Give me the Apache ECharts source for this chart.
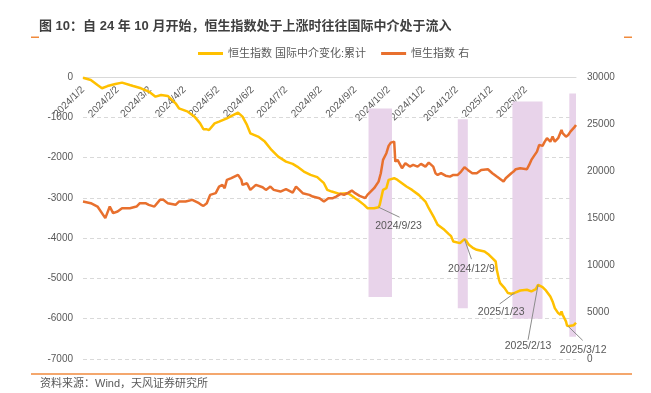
<!DOCTYPE html>
<html><head><meta charset="utf-8">
<script src="https://cdn.jsdelivr.net/npm/echarts@6/dist/echarts.min.js"></script>
<style>html,body{margin:0;padding:0;background:#fff}#c{width:651px;height:393px}</style>
</head><body><div id="c"></div>
<script>
const FONT = '"Liberation Sans", Arial, "Noto Sans CJK SC", sans-serif';

const titleText = '图 10：自 24 年 10 月开始，恒生指数处于上涨时往往国际中介处于流入';
const sourceText = '资料来源：Wind，天风证券研究所';
const flowName = '恒生指数 国际中介变化:累计';
const hsiName = '恒生指数 右';

const tickLabels = ['2024/1/2','2024/2/2','2024/3/2','2024/4/2','2024/5/2','2024/6/2','2024/7/2','2024/8/2','2024/9/2','2024/10/2','2024/11/2','2024/12/2','2025/1/2','2025/2/2','2025/3/2'];

const flowDates = ['2024-01-02','2024-01-09','2024-01-15','2024-01-19','2024-01-24','2024-01-31','2024-02-06','2024-02-13','2024-02-16','2024-02-23','2024-03-01','2024-03-07','2024-03-12','2024-03-18','2024-03-25','2024-03-28','2024-04-05','2024-04-11','2024-04-16','2024-04-19','2024-04-22','2024-04-24','2024-04-29','2024-05-03','2024-05-10','2024-05-16','2024-05-20','2024-05-24','2024-05-28','2024-05-31','2024-06-07','2024-06-13','2024-06-19','2024-06-25','2024-07-02','2024-07-08','2024-07-12','2024-07-18','2024-07-24','2024-07-30','2024-08-05','2024-08-08','2024-08-12','2024-08-19','2024-08-26','2024-08-29','2024-09-02','2024-09-05','2024-09-10','2024-09-13','2024-09-19','2024-09-23','2024-09-24','2024-09-26','2024-09-27','2024-09-30','2024-10-02','2024-10-03','2024-10-07','2024-10-10','2024-10-14','2024-10-18','2024-10-23','2024-10-29','2024-11-04','2024-11-07','2024-11-12','2024-11-15','2024-11-21','2024-11-25','2024-11-27','2024-11-29','2024-12-05','2024-12-06','2024-12-09','2024-12-11','2024-12-13','2024-12-17','2024-12-20','2024-12-27','2024-12-31','2025-01-03','2025-01-06','2025-01-07','2025-01-09','2025-01-10','2025-01-14','2025-01-17','2025-01-20','2025-01-23','2025-01-28','2025-02-03','2025-02-07','2025-02-11','2025-02-13','2025-02-17','2025-02-20','2025-02-24','2025-02-26','2025-02-28','2025-03-03','2025-03-05','2025-03-06','2025-03-07','2025-03-10','2025-03-11','2025-03-12','2025-03-13','2025-03-14','2025-03-17','2025-03-18','2025-03-19'];
const flowValues = [-20,-75,-200,-280,-225,-175,-140,-200,-225,-280,-363,-488,-446,-470,-653,-777,-860,-984,-1150,-1297,-1300,-1314,-1150,-1108,-1025,-942,-885,-984,-1190,-1397,-1480,-1604,-1810,-1976,-2100,-2157,-2224,-2348,-2430,-2487,-2636,-2802,-2844,-2901,-2885,-2926,-3009,-3067,-3174,-3257,-3257,-3232,-3174,-2926,-2802,-2760,-2554,-2513,-2513,-2554,-2636,-2719,-2802,-2926,-3091,-3257,-3505,-3670,-3794,-3900,-3950,-4083,-4124,-4110,-4025,-4083,-4166,-4248,-4290,-4331,-4414,-4497,-4580,-4786,-5034,-5116,-5240,-5364,-5381,-5360,-5300,-5281,-5323,-5265,-5158,-5215,-5298,-5447,-5571,-5736,-5860,-5901,-5819,-5901,-6067,-6174,-6190,-6180,-6175,-6160,-6130,-6100];

const hsiDates = ['2024-01-02','2024-01-09','2024-01-15','2024-01-22','2024-01-26','2024-01-29','2024-02-02','2024-02-06','2024-02-13','2024-02-19','2024-02-22','2024-02-27','2024-03-01','2024-03-06','2024-03-11','2024-03-14','2024-03-18','2024-03-25','2024-03-28','2024-04-03','2024-04-09','2024-04-15','2024-04-17','2024-04-19','2024-04-22','2024-04-25','2024-04-30','2024-05-03','2024-05-06','2024-05-08','2024-05-10','2024-05-14','2024-05-20','2024-05-23','2024-05-24','2024-05-28','2024-05-31','2024-06-05','2024-06-11','2024-06-14','2024-06-18','2024-06-21','2024-06-27','2024-07-02','2024-07-08','2024-07-11','2024-07-17','2024-07-23','2024-07-26','2024-08-01','2024-08-05','2024-08-09','2024-08-13','2024-08-16','2024-08-20','2024-08-23','2024-08-27','2024-08-30','2024-09-02','2024-09-06','2024-09-11','2024-09-13','2024-09-19','2024-09-23','2024-09-25','2024-09-27','2024-09-30','2024-10-02','2024-10-04','2024-10-07','2024-10-08','2024-10-09','2024-10-10','2024-10-11','2024-10-14','2024-10-17','2024-10-21','2024-10-24','2024-10-28','2024-10-31','2024-11-04','2024-11-07','2024-11-11','2024-11-13','2024-11-15','2024-11-18','2024-11-22','2024-11-26','2024-11-29','2024-12-03','2024-12-06','2024-12-09','2024-12-12','2024-12-16','2024-12-20','2024-12-24','2024-12-30','2025-01-03','2025-01-07','2025-01-13','2025-01-15','2025-01-20','2025-01-22','2025-01-24','2025-01-28','2025-02-03','2025-02-05','2025-02-07','2025-02-10','2025-02-12','2025-02-14','2025-02-17','2025-02-19','2025-02-21','2025-02-24','2025-02-26','2025-02-28','2025-03-03','2025-03-06','2025-03-07','2025-03-10','2025-03-12','2025-03-14','2025-03-18','2025-03-19'];
const hsiValues = [16748,16578,16216,14985,16216,15516,15686,16046,16046,16216,16578,16578,16400,16216,16929,16929,16578,16400,16748,16748,16929,16578,16400,16290,16578,17461,17641,18343,18524,18170,19055,19234,19585,19055,18524,18700,17990,18524,18277,17990,18343,17990,17810,18065,17705,18343,17641,17461,17280,17110,16748,17110,17110,17280,17566,17461,17705,17917,17641,17354,17110,17461,18172,18873,19766,21180,21892,22668,23018,23124,21000,20829,21180,21000,20298,20829,20467,20649,20467,20755,20467,20894,20467,19766,19585,19766,19500,19400,19585,19585,19936,20404,20117,19766,19766,20117,20191,19766,19404,18873,19234,19766,19936,20191,20298,20191,20649,21180,21711,22062,22774,22668,23124,23487,23124,23656,23124,23487,24369,24017,23656,23837,24186,24720,24900];

const bandStart = ['2024-09-14','2024-12-03','2025-01-21','2025-03-13'];
const bandEnd = ['2024-10-05','2024-12-12','2025-02-17','2025-03-19'];
const bandTop = [-780,-1050,-610,-410];
const bandBottom = [-5460,-5740,-6000,-6450];

const noteLabels = ['2024/9/23','2024/12/9','2025/1/23','2025/2/13','2025/3/12'];
const noteDates = ['2024-09-23','2024-12-09','2025-01-23','2025-02-13','2025-03-12'];
const noteValues = [-3232,-4025,-5360,-5158,-6190];
// pixel offsets from the annotated point: [leaderEndX, leaderEndY, textX, textY]
const noteOffsets = [[21,10,20,19],[7,20,7,30],[-15,11,-13.5,19.6],[-10,55,-10,61],[14.5,14,15,24]];

const START = '2024-01-02', END = '2025-03-19';
function ymd(s){ return s.split(/[-\/]/).map(Number); }
function day(s){ const p=ymd(s), q=ymd(START); return Math.round((Date.UTC(p[0],p[1]-1,p[2]) - Date.UTC(q[0],q[1]-1,q[2]))/86400000); }
function fmt(v){ const q=ymd(START); const d=new Date(Date.UTC(q[0],q[1]-1,q[2]+Math.round(v))); return d.getUTCFullYear()+'/'+(d.getUTCMonth()+1)+'/'+d.getUTCDate(); }

const GRID = {left:83, right:75, top:77, bottom:34};
const plotH = 393 - GRID.top - GRID.bottom;

const chart = echarts.init(document.getElementById('c'), null, {renderer:'canvas'});
const gray = '#595959';
const option = {
  animation:false,
  backgroundColor:'#fff',
  textStyle:{fontFamily:FONT},
  title:{text:titleText, left:39, top:20, padding:0, textStyle:{fontSize:13, fontWeight:'bold', color:'#3f3f3f', fontFamily:FONT}},
  legend:{left:198, top:48, padding:0, icon:'rect', itemWidth:25, itemHeight:3, itemGap:15,
    textStyle:{fontSize:11, color:gray, fontFamily:FONT}, data:[flowName, hsiName]},
  grid:GRID,
  xAxis:{type:'value', min:0, max:day(END), position:'bottom', offset:-plotH,
    axisLine:{onZero:false, lineStyle:{color:'#d9d9d9', width:1}},
    axisTick:{show:false}, splitLine:{show:false},
    axisLabel:{rotate:45, fontSize:10, color:gray, fontFamily:FONT, margin:11, hideOverlap:false, showMinLabel:true, showMaxLabel:false,
      customValues:tickLabels.map(day), formatter:fmt}},
  yAxis:[
    {type:'value', min:-7000, max:0, interval:1000, axisLine:{show:false}, axisTick:{show:false},
     axisLabel:{fontSize:10, color:gray, fontFamily:FONT, margin:10, formatter:v=>String(v)},
     splitLine:{lineStyle:{type:[4,3], color:'#d9d9d9', width:1}}},
    {type:'value', min:0, max:30000, interval:5000, position:'right', axisLine:{show:false}, axisTick:{show:false},
     axisLabel:{fontSize:10, color:gray, fontFamily:FONT, margin:11, formatter:v=>String(v)}, splitLine:{show:false}}
  ],
  series:[
    {type:'custom', name:'bands', yAxisIndex:0, silent:true, z:1,
     data: bandStart.map((s,i)=>[day(s), day(bandEnd[i]), bandTop[i], bandBottom[i]]),
     encode:{x:[0,1], y:[2,3]},
     renderItem(params, api){
       const p1 = api.coord([api.value(0), api.value(2)]);
       const p2 = api.coord([api.value(1), api.value(3)]);
       return {type:'rect', shape:{x:p1[0], y:p1[1], width:p2[0]-p1[0], height:p2[1]-p1[1]}, style:{fill:'#E8D3EA'}};
     }},
    {type:'line', name:flowName, yAxisIndex:0, showSymbol:false, z:3,
     color:'#FFC000', lineStyle:{color:'#FFC000', width:2.5},
     data: flowDates.map((d,i)=>[day(d), flowValues[i]])},
    {type:'line', name:hsiName, yAxisIndex:1, showSymbol:false, z:4,
     color:'#E8702E', lineStyle:{color:'#E8702E', width:2.5},
     data: hsiDates.map((d,i)=>[day(d), hsiValues[i]])}
  ]
};
chart.setOption(option);

const graphics = [
  {type:'rect', shape:{x:31, y:36.5, width:8, height:1.5}, style:{fill:'#F08A3C'}},
  {type:'rect', shape:{x:624, y:36.5, width:8, height:1.5}, style:{fill:'#F08A3C'}},
  {type:'rect', shape:{x:31, y:373.3, width:601, height:1.5}, style:{fill:'#F08A3C'}},
  {type:'text', x:40, y:384, style:{text:sourceText, fill:gray, font:'11px '+FONT, verticalAlign:'middle'}}
];
noteLabels.forEach((t,i)=>{
  const p = chart.convertToPixel({xAxisIndex:0, yAxisIndex:0}, [day(noteDates[i]), noteValues[i]]);
  const o = noteOffsets[i];
  graphics.push({type:'line', z:100, shape:{x1:p[0], y1:p[1], x2:p[0]+o[0], y2:p[1]+o[1]}, style:{stroke:'#8c8c8c', lineWidth:1}});
  graphics.push({type:'text', z:100, x:p[0]+o[2], y:p[1]+o[3], style:{text:t, fill:gray, font:'10.5px '+FONT, align:'center', verticalAlign:'middle'}});
});
chart.setOption({graphic:graphics});
</script>
</body></html>
